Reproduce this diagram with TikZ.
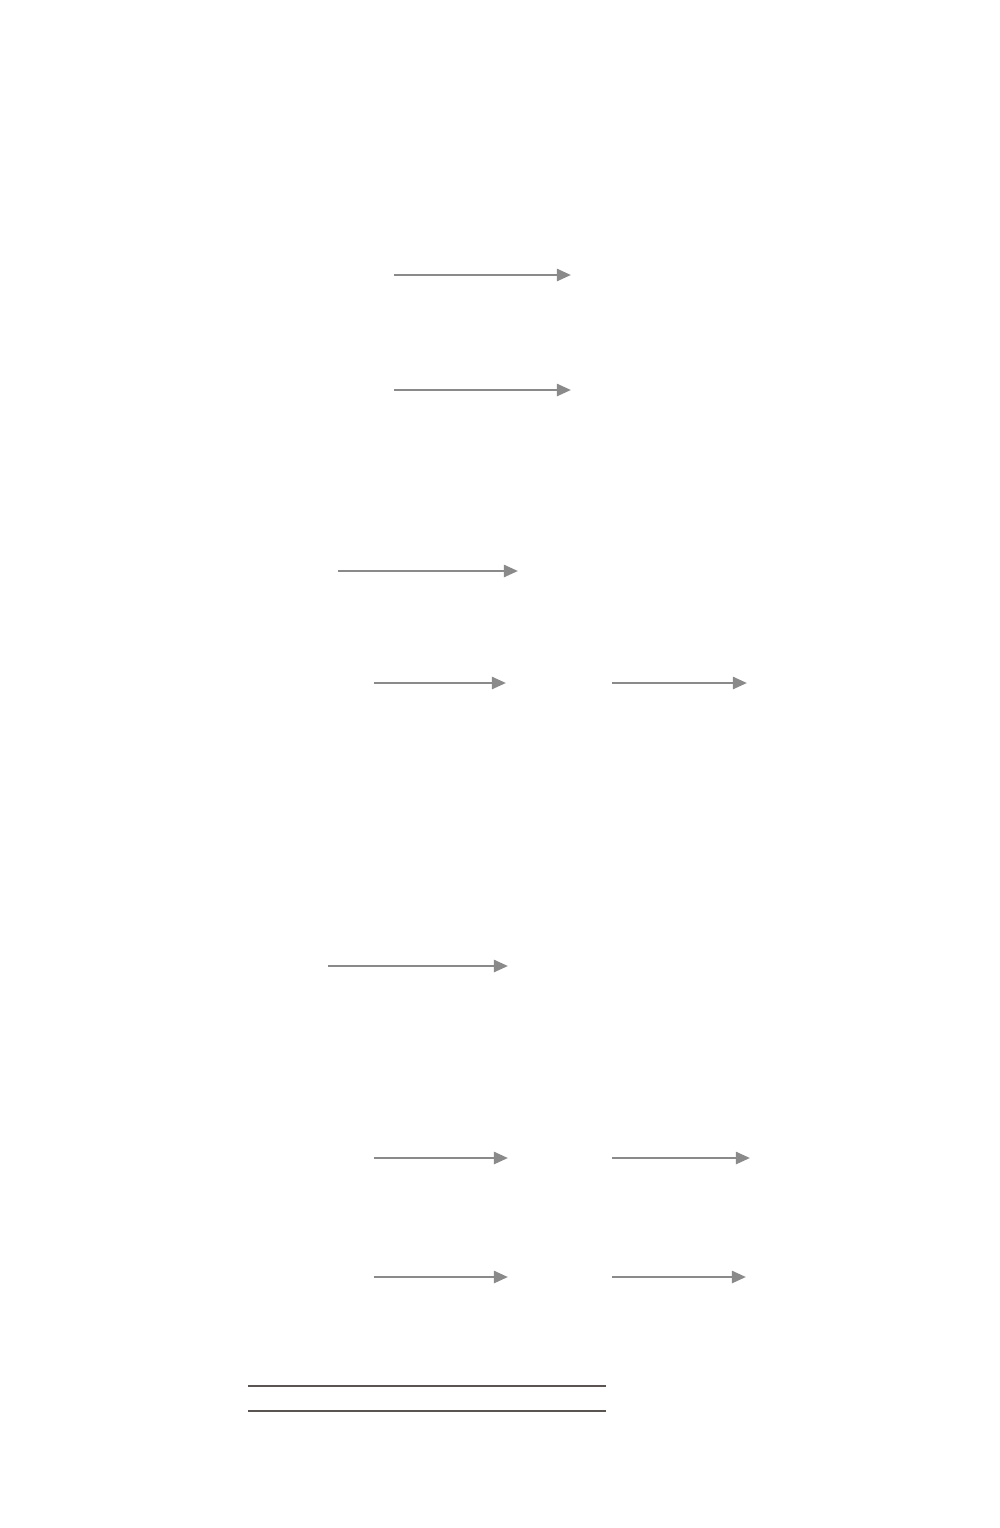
\documentclass[tikz,border=0pt]{standalone}
\usepackage{xcolor}
\usepackage{tikz}
\usetikzlibrary{arrows.meta}
\usetikzlibrary{positioning}

\definecolor{arrgray}{HTML}{8A8A8A}
\definecolor{rulegray}{HTML}{5A5552}

\begin{document}
\begin{tikzpicture}[x=0.02cm, y=-0.02cm,
    arr/.style={color=arrgray, line width=1.5pt, -{Triangle[length=8pt,width=6.8pt]}},
    rule/.style={color=rulegray, line width=0.8pt}]
      \useasboundingbox (0,0) rectangle (1000,1528);
      % arrow ends
      \coordinate (a_1) at (394,275);  \coordinate (b_1) at (571,275);
      \coordinate (a_2) at (394,390);  \coordinate (b_2) at (571,390);
      \coordinate (a_3) at (338,571);  \coordinate (b_3) at (518,571);
      \coordinate (a_4) at (374,683);  \coordinate (b_4) at (506,683);
      \coordinate (c_4) at (612,683);  \coordinate (d_4) at (747,683);
      \coordinate (a_5) at (328,966);  \coordinate (b_5) at (508,966);
      \coordinate (a_6) at (374,1158); \coordinate (b_6) at (508,1158);
      \coordinate (c_6) at (612,1158); \coordinate (d_6) at (750,1158);
      \coordinate (a_7) at (374,1277); \coordinate (b_7) at (508,1277);
      \coordinate (c_7) at (612,1277); \coordinate (d_7) at (746,1277);
      % rules
      \coordinate (r_1) at (248,1386); \coordinate (s_1) at (606,1386);
      \coordinate (r_2) at (248,1411); \coordinate (s_2) at (606,1411);
      \foreach \u/\v in {a_1/b_1, a_2/b_2, a_3/b_3, a_4/b_4, c_4/d_4,
                         a_5/b_5, a_6/b_6, c_6/d_6, a_7/b_7, c_7/d_7}
        \draw[arr] (\u) -- (\v);
      \draw[rule] (r_1) -- (s_1);
      \draw[rule] (r_2) -- (s_2);
    \end{tikzpicture}
\end{document}
